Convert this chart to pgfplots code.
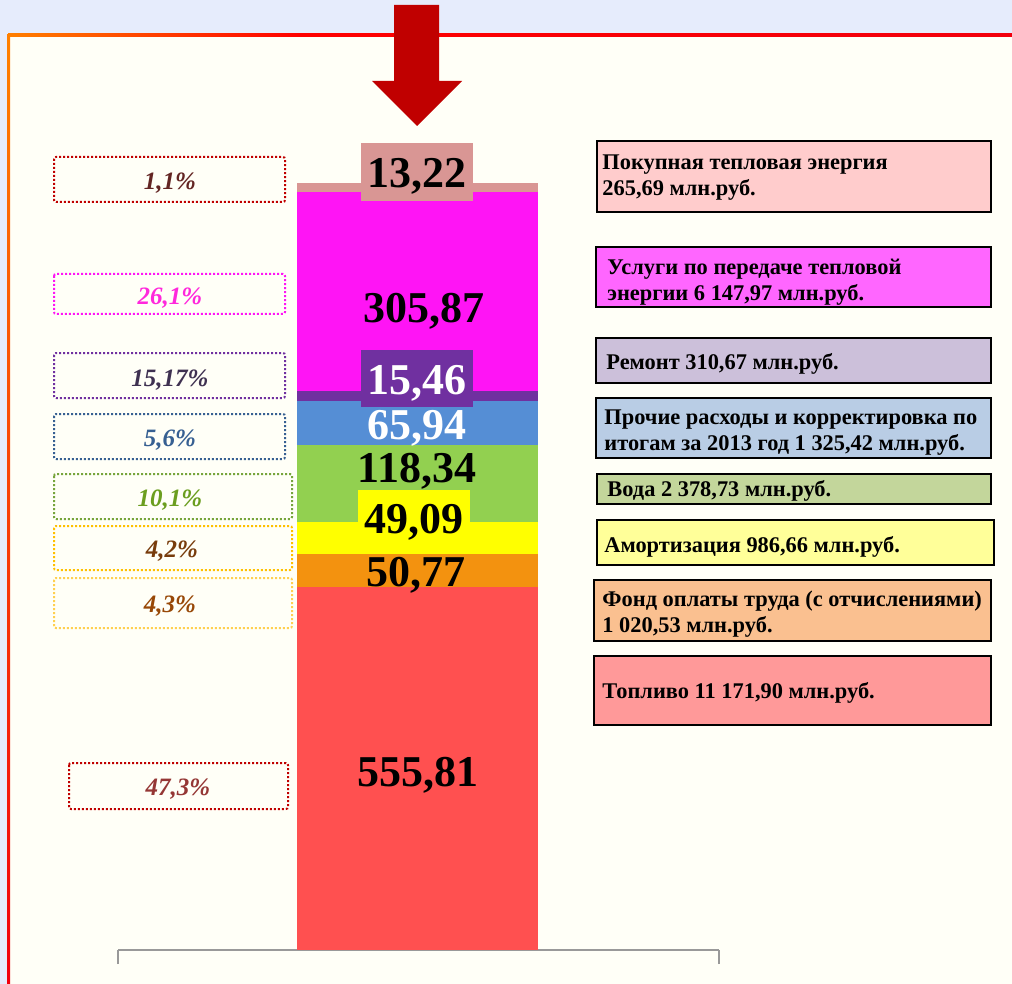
\documentclass[border=0pt]{standalone}
\usepackage{pgfplots}
\pgfplotsset{compat=1.18}
\usepackage{fontspec}
\setmainfont{Liberation Serif}
\definecolor{bgblue}{HTML}{E6ECFC}
\definecolor{panel}{HTML}{FFFFF7}
\definecolor{arrowred}{HTML}{C00000}
\definecolor{cRed}{HTML}{FF5050}
\definecolor{cOrange}{HTML}{F3920F}
\definecolor{cYellow}{HTML}{FFFF00}
\definecolor{cGreen}{HTML}{92D050}
\definecolor{cBlue}{HTML}{558ED5}
\definecolor{cPurple}{HTML}{7030A0}
\definecolor{cMagenta}{HTML}{FF14F5}
\definecolor{cPink}{HTML}{D99694}
\definecolor{bPink}{HTML}{FFCCCC}
\definecolor{bMag}{HTML}{FF66FF}
\definecolor{bLilac}{HTML}{CCC0DA}
\definecolor{bBlue}{HTML}{B9CDE5}
\definecolor{bGreen}{HTML}{C3D69B}
\definecolor{bYellow}{HTML}{FFFF99}
\definecolor{bOrange}{HTML}{FAC090}
\definecolor{bRed}{HTML}{FF9999}
\newcommand\vlab{\fontsize{22}{22}\selectfont\bfseries}
\newcommand\plab{\fontsize{12.5}{12.5}\selectfont\bfseries\itshape}
\newcommand\rlab{\fontsize{11.2}{13}\selectfont\bfseries}
\begin{document}
\begin{tikzpicture}
\begin{scope}[x=0.5pt,y=-0.5pt]
\path[use as bounding box] (0,0) rectangle (1012,984);
\fill[bgblue] (0,0) rectangle (1012,984);
\fill[panel] (9,35) rectangle (1012,984);
\shade[left color=orange, right color=red] (8,34) rectangle (300,37);
\shade[left color=red, right color=red!80!purple] (300,34) rectangle (1012,37);
\shade[top color=orange, bottom color=red!80!purple] (7,35) rectangle (10,984);
\fill[arrowred] (394,5) -- (439,5) -- (439,81) -- (462,81) -- (417,126) -- (372,81) -- (394,81) -- cycle;
% percentage boxes
\tikzset{pbox/.style={line width=1pt, dash pattern=on 1pt off 1pt, fill=panel, rounded corners=1pt}}
\draw[pbox, draw=arrowred] (54,157) rectangle (285,202);
\node[font=\plab, text={rgb,255:red,99;green,37;blue,35}] at (170,183) {1,1\%};
\draw[pbox, draw=cMagenta] (54,274) rectangle (285,314);
\node[font=\plab, text={rgb,255:red,255;green,40;blue,220}] at (170,298) {26,1\%};
\draw[pbox, draw=cPurple] (54,353) rectangle (285,398);
\node[font=\plab, text={rgb,255:red,63;green,49;blue,81}] at (170,380) {15,17\%};
\draw[pbox, draw={rgb,255:red,55;green,96;blue,146}] (54,414) rectangle (285,459);
\node[font=\plab, text={rgb,255:red,55;green,96;blue,146}] at (170,440) {5,6\%};
\draw[pbox, draw={rgb,255:red,119;green,165;blue,60}] (54,474) rectangle (292,519);
\node[font=\plab, text={rgb,255:red,107;green,158;blue,31}] at (170,500) {10,1\%};
\draw[pbox, draw={rgb,255:red,255;green,192;blue,0}] (54,526) rectangle (292,570);
\node[font=\plab, text={rgb,255:red,120;green,60;blue,12}] at (172,551) {4,2\%};
\draw[pbox, draw={rgb,255:red,255;green,208;blue,80}] (54,578) rectangle (292,628);
\node[font=\plab, text={rgb,255:red,152;green,72;blue,7}] at (170,606) {4,3\%};
\draw[pbox, draw=arrowred] (69,763) rectangle (288,809);
\node[font=\plab, text={rgb,255:red,149;green,55;blue,53}] at (178,789) {47,3\%};
% right boxes
\tikzset{rbox/.style={draw=black, line width=1pt}}
\draw[rbox, fill=bPink] (597,141) rectangle (991,212);
\node[font=\rlab, anchor=west, align=left, inner sep=0pt] at (602,177.5) {Покупная тепловая энергия\\265,69 млн.руб.};
\draw[rbox, fill=bMag] (596,247) rectangle (991,307);
\node[font=\rlab, anchor=west, align=left, inner sep=0pt] at (607,282) {Услуги по передаче тепловой\\энергии 6 147,97 млн.руб.};
\draw[rbox, fill=bLilac] (596,338) rectangle (991,383);
\node[font=\rlab, anchor=west, align=left, inner sep=0pt] at (606,364) {Ремонт 310,67 млн.руб.};
\draw[rbox, fill=bBlue] (596,398) rectangle (991,458);
\node[font=\rlab, anchor=west, align=left, inner sep=0pt] at (604,432.5) {Прочие расходы и корректировка по\\итогам за 2013 год 1 325,42 млн.руб.};
\draw[rbox, fill=bGreen] (597,474) rectangle (991,504);
\node[font=\rlab, anchor=west, align=left, inner sep=0pt] at (607,491) {Вода 2 378,73 млн.руб.};
\draw[rbox, fill=bYellow] (597,520) rectangle (994,565);
\node[font=\rlab, anchor=west, align=left, inner sep=0pt] at (604,547) {Амортизация 986,66 млн.руб.};
\draw[rbox, fill=bOrange] (594,580) rectangle (991,641);
\node[font=\rlab, anchor=west, align=left, inner sep=0pt] at (602,614) {Фонд оплаты труда (с отчислениями)\\1 020,53 млн.руб.};
\draw[rbox, fill=bRed] (594,656) rectangle (991,725);
\node[font=\rlab, anchor=west, align=left, inner sep=0pt] at (602,693) {Топливо 11 171,90 млн.руб.};
\end{scope}
\begin{axis}[at={(59pt,-475pt)}, anchor=south west, scale only axis,
  width=300.5pt, height=457.135pt, xmin=0, xmax=601, ymin=0, ymax=1400,
  axis y line=none, axis x line*=bottom, xtick={0,601}, xticklabels={}, ytick=\empty,
  tick align=outside, major tick length=7pt,
  axis line style={gray!80, line width=1pt}, every tick/.style={gray!80, line width=1pt},
  ybar stacked, bar width=241, clip=false]
\addplot[fill=cRed, draw=none] coordinates {(299.5,555.81)};
\addplot[fill=cOrange, draw=none] coordinates {(299.5,50.77)};
\addplot[fill=cYellow, draw=none] coordinates {(299.5,49.09)};
\addplot[fill=cGreen, draw=none] coordinates {(299.5,118.34)};
\addplot[fill=cBlue, draw=none] coordinates {(299.5,65.94)};
\addplot[fill=cPurple, draw=none] coordinates {(299.5,15.46)};
\addplot[fill=cMagenta, draw=none] coordinates {(299.5,305.87)};
\addplot[fill=cPink, draw=none] coordinates {(299.5,13.22)};
\end{axis}
\begin{scope}[x=0.5pt,y=-0.5pt]
\fill[cPink] (361,143) rectangle (473,201);
\node[font=\vlab] at (417,176) {13,22};
\node[font=\vlab] at (424,311) {305,87};
\fill[cPurple] (361,350) rectangle (473,407);
\node[font=\vlab, text=white] at (417,383) {15,46};
\node[font=\vlab, text=white] at (417,428) {65,94};
\node[font=\vlab] at (417,471) {118,34};
\fill[cYellow] (358,490) rectangle (470,524);
\node[font=\vlab] at (414,522) {49,09};
\node[font=\vlab] at (416,575) {50,77};
\node[font=\vlab] at (418,775) {555,81};
\end{scope}
\end{tikzpicture}
\end{document}
